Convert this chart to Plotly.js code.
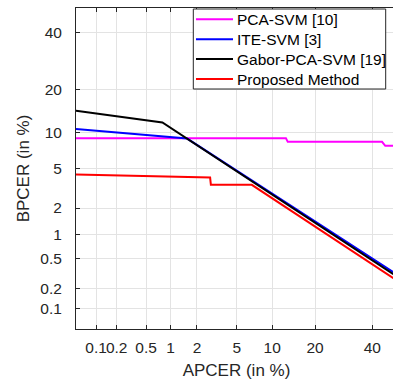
<!DOCTYPE html>
<html>
<head>
<meta charset="utf-8">
<script src="https://cdn.plot.ly/plotly-3.0.1.min.js"></script>
<style>
html,body{margin:0;padding:0;overflow:hidden;background:#fff;}
#chart{width:397px;height:383px;}
</style>
</head>
<body>
<div id="chart"></div>
<script>
// Data (percent values)
const tickValsPct = [0.1, 0.2, 0.5, 1, 2, 5, 10, 20, 40];
const tickLabels = ["0.1", "0.2", "0.5", "1", "2", "5", "10", "20", "40"];

const seriesNames = ["PCA-SVM [10]", "ITE-SVM [3]", "Gabor-PCA-SVM [19]", "Proposed Method"];

const pcaSvmAPCER  = [0.049, 12.7, 13.1, 43.9, 45.2, 48.5];
const pcaSvmBPCER  = [9.07, 9.07, 8.47, 8.47, 7.85, 7.85];

const iteSvmAPCER  = [0.049, 1.56, 48.5];
const iteSvmBPCER  = [10.7, 9.0, 0.335];

const gaborAPCER   = [0.049, 0.80, 48.5];
const gaborBPCER   = [14.6, 12.0, 0.313];

const proposedAPCER = [0.049, 2.75, 2.8, 6.8, 48.5];
const proposedBPCER = [4.36, 4.08, 3.47, 3.47, 0.276];

// Inverse normal CDF (Acklam) for normal-deviate (probit) axes
function probit(p) {
  const a = [-3.969683028665376e+01, 2.209460984245205e+02, -2.759285104469687e+02, 1.383577518672690e+02, -3.066479806614716e+01, 2.506628277459239e+00];
  const b = [-5.447609879822406e+01, 1.615858368580409e+02, -1.556989798598866e+02, 6.680131188771972e+01, -1.328068155288572e+01];
  const c = [-7.784894002430293e-03, -3.223964580411365e-01, -2.400758277161838e+00, -2.549732539343734e+00, 4.374664141464968e+00, 2.938163982698783e+00];
  const d = [7.784695709041462e-03, 3.224671290700398e-01, 2.445134137142996e+00, 3.754408661907416e+00];
  const plow = 0.02425, phigh = 1 - plow;
  let q, r;
  if (p < plow) {
    q = Math.sqrt(-2 * Math.log(p));
    return (((((c[0]*q+c[1])*q+c[2])*q+c[3])*q+c[4])*q+c[5]) / ((((d[0]*q+d[1])*q+d[2])*q+d[3])*q+1);
  } else if (p <= phigh) {
    q = p - 0.5; r = q*q;
    return (((((a[0]*r+a[1])*r+a[2])*r+a[3])*r+a[4])*r+a[5])*q / (((((b[0]*r+b[1])*r+b[2])*r+b[3])*r+b[4])*r+1);
  } else {
    q = Math.sqrt(-2 * Math.log(1 - p));
    return -(((((c[0]*q+c[1])*q+c[2])*q+c[3])*q+c[4])*q+c[5]) / ((((d[0]*q+d[1])*q+d[2])*q+d[3])*q+1);
  }
}
const tr = arr => arr.map(v => probit(v / 100));

const colors = ["#ff00ff", "#0000ff", "#000000", "#ff0000"];
const xs = [pcaSvmAPCER, iteSvmAPCER, gaborAPCER, proposedAPCER];
const ys = [pcaSvmBPCER, iteSvmBPCER, gaborBPCER, proposedBPCER];

const traces = seriesNames.map((name, i) => ({
  x: tr(xs[i]), y: tr(ys[i]), name: name, type: "scatter", mode: "lines",
  line: {color: colors[i], width: 2}, hoverinfo: "skip", showlegend: false
}));

const font = "Liberation Sans, Arial, Helvetica, sans-serif";

// Plot area geometry (pixels) used to place the MATLAB-style legend box
const PL = 76, PT = 8, PW = 321, PH = 321;
const px = v => (v - PL) / PW;
const py = v => (PT + PH - v) / PH;

const shapes = [{
  type: "rect", xref: "paper", yref: "paper", layer: "above",
  x0: px(193.3), x1: px(385.7), y0: py(89), y1: py(9),
  fillcolor: "#ffffff", line: {color: "#262626", width: 1}
}];
const annotations = [];
seriesNames.forEach((name, i) => {
  const rowY = 19.3 + 19.9 * i;
  shapes.push({
    type: "line", xref: "paper", yref: "paper", layer: "above",
    x0: px(196), x1: px(233), y0: py(rowY), y1: py(rowY),
    line: {color: colors[i], width: 2}
  });
  annotations.push({
    xref: "paper", yref: "paper", x: px(235), y: py(rowY),
    xanchor: "left", yanchor: "middle", showarrow: false,
    text: name, font: {family: font, size: 15.5, color: "#000000"}
  });
});

const axisCommon = {
  range: [-3.296, 0],
  tickmode: "array",
  tickvals: tr(tickValsPct),
  ticktext: tickLabels,
  tickangle: 0,
  ticks: "inside", ticklen: 4, tickwidth: 1, tickcolor: "#262626",
  showline: true, linecolor: "#262626", linewidth: 1, mirror: "ticks",
  showgrid: true, gridcolor: "#e3e3e3", gridwidth: 1,
  zeroline: false,
  tickfont: {family: font, size: 15.5, color: "#262626"},
  automargin: false, fixedrange: true
};

const layout = {
  width: 397, height: 383,
  margin: {l: 76, r: 0, t: 8, b: 54, pad: 0},
  paper_bgcolor: "#ffffff", plot_bgcolor: "#ffffff",
  font: {family: font, color: "#262626"},
  showlegend: false,
  shapes: shapes,
  annotations: annotations,
  xaxis: Object.assign({}, axisCommon, {
    title: {text: "APCER (in %)", font: {family: font, size: 17, color: "#262626"}, standoff: 9},
    ticklabelstandoff: 4
  }),
  yaxis: Object.assign({}, axisCommon, {
    title: {text: "BPCER (in %)", font: {family: font, size: 17, color: "#262626"}, standoff: 6},
    ticklabelstandoff: 10
  })
};

Plotly.newPlot("chart", traces, layout, {displayModeBar: false, staticPlot: true});
</script>
</body>
</html>
